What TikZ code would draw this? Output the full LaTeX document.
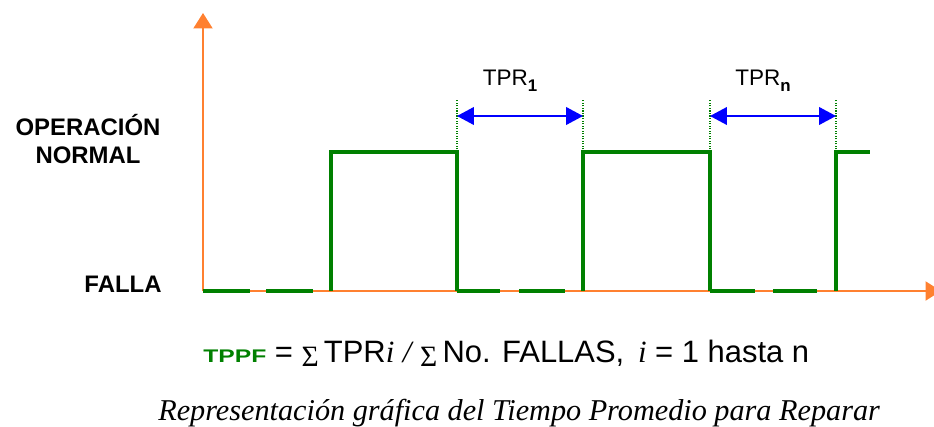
\documentclass[tikz,border=0pt]{standalone}
\usepackage{fontspec}
\setmainfont{Liberation Sans}
\newfontfamily\capfont{Liberation Serif}
\usetikzlibrary{arrows.meta}

\definecolor{axisorange}{RGB}{255,128,48}
\definecolor{wavegreen}{RGB}{0,128,0}
\definecolor{dimblue}{RGB}{0,0,255}

\newcommand{\sig}{{\capfont\fontsize{21}{21}\selectfont\raisebox{-3pt}{Σ}}}

\begin{document}
\begin{tikzpicture}[x=0.025cm, y=-0.025cm,
  axis/.style={draw=axisorange, fill=axisorange, line width=1.5pt, -{Triangle[length=11pt,width=13.5pt]}},
  wave/.style={draw=wavegreen, line width=3.4pt},
  guide/.style={draw=wavegreen, densely dotted, line width=0.8pt},
  dim/.style={draw=dimblue, fill=dimblue, line width=1.3pt, {Triangle[length=12pt,width=12.5pt]}-{Triangle[length=12pt,width=12.5pt]}},
  lvl/.style={font=\fontsize{17}{20.5}\selectfont\bfseries, align=center, inner sep=0pt},
  tpr/.style={font=\fontsize{16}{16}\selectfont, inner sep=0pt}
]
  \useasboundingbox (0,0) rectangle (934,427);

  % ejes
  \coordinate (o) at (203,291);
  \coordinate (ytop) at (203,13);
  \coordinate (xend) at (941,291);
  \draw[axis] (o) -- (ytop);
  \draw[axis] (o) -- (xend);

  % niveles
  \node[lvl] (on) at (88,139) {OPERACIÓN\\NORMAL};
  \node[lvl, anchor=base] (off) at (123,292) {FALLA};

  % flancos de la senal
  \coordinate (hi) at (0,152);
  \coordinate (dimy) at (0,116);
  \coordinate (r1) at (331,291);
  \coordinate (f1) at (457,291);
  \coordinate (r2) at (583,291);
  \coordinate (f2) at (710,291);
  \coordinate (r3) at (836,291);
  \coordinate (e3) at (870,152);

  % tramos de falla
  \foreach \a/\b in {203/250,266/313,457/500,519/565,710/755,773/817}
    \draw[wave] (\a,291) -- (\b,291);

  \draw[wave] (r1) -- (r1 |- hi) -- (f1 |- hi) -- (f1);
  \draw[wave] (r2) -- (r2 |- hi) -- (f2 |- hi) -- (f2);
  \draw[wave] (r3) -- (r3 |- hi) -- (e3);

  % cotas TPR
  \foreach \p in {f1,r2,f2,r3}
    \draw[guide] (\p |- hi) -- ++(0,-52);
  \draw[dim] (f1 |- dimy) -- (r2 |- dimy);
  \draw[dim] (f2 |- dimy) -- (r3 |- dimy);
  \node[tpr, anchor=base] (tpr1) at (510,86) {TPR\raisebox{-4pt}{\fontsize{12}{12}\selectfont\bfseries 1}};
  \node[tpr, anchor=base] (tprn) at (763,86) {TPR\raisebox{-4pt}{\fontsize{12}{12}\selectfont\bfseries n}};

  % formula y pie
  \node[anchor=base west, inner sep=0pt, font=\fontsize{22}{22}\selectfont] (eq) at (203,362)
    {{\color{wavegreen}\scalebox{1.35}[1]{\fontsize{13}{13}\selectfont\bfseries TPPF}} = \sig\,TPR{\capfont\itshape i} {\capfont\itshape /} \sig\,No. FALLAS,\ \,{\capfont\itshape i} = 1 hasta n};
  \node[anchor=base west, inner sep=0pt, font=\capfont\itshape\fontsize{21.5}{21.5}\selectfont] (cap) at (158,420)
    {Representación gráfica del Tiempo Promedio para Reparar};
\end{tikzpicture}
\end{document}
